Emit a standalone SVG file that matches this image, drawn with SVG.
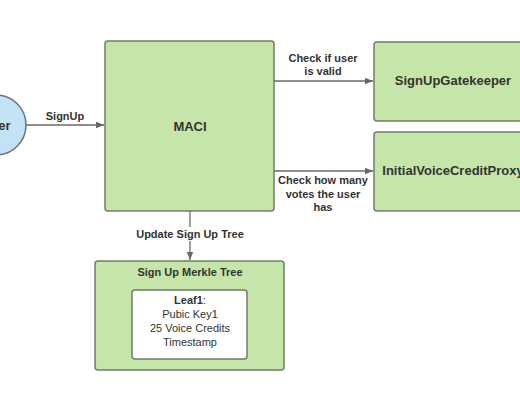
<svg xmlns="http://www.w3.org/2000/svg" width="520" height="400" viewBox="0 0 520 400">
<defs>
<marker id="arr" viewBox="0 0 10 10" refX="10" refY="5" markerWidth="8" markerHeight="8" markerUnits="userSpaceOnUse" orient="auto">
<path d="M0,1 L10,5 L0,9 z" fill="#666"/>
</marker>
<style>
.box{fill:#c6e5a8;stroke:#6f7d69;stroke-width:1.5}
.t{font-family:"Liberation Sans",Arial,sans-serif;fill:#333;text-anchor:middle}
.b{font-weight:bold}
.edge{stroke:#6a6a6a;stroke-width:1.3;fill:none}
</style>
</defs>
<rect width="520" height="400" fill="#ffffff"/>
<g id="user">
<circle cx="-4" cy="125" r="30" fill="#c4e2f5" stroke="#6a747a" stroke-width="1.5"/>
<text class="t b" x="-4" y="130" font-size="13">User</text>
</g>
<g id="maci">
<rect class="box" x="105" y="41" width="169" height="170" rx="3"/>
<text class="t b" x="190" y="131" font-size="13" fill="#2f3d2b">MACI</text>
</g>
<g id="gatekeeper">
<rect class="box" x="374" y="42" width="160" height="79" rx="3"/>
<text class="t b" x="453" y="85" font-size="13">SignUpGatekeeper</text>
</g>
<g id="proxy">
<rect class="box" x="374" y="132" width="160" height="79" rx="3"/>
<text class="t b" x="453" y="175" font-size="13">InitialVoiceCreditProxy</text>
</g>
<g id="merkle">
<rect class="box" x="95" y="261" width="189" height="109" rx="3"/>
<text class="t b" x="190" y="276" font-size="11">Sign Up Merkle Tree</text>
<g id="leaf1">
<rect x="132" y="290" width="115" height="69" rx="3" fill="#ffffff" stroke="#6f7d69" stroke-width="1.5"/>
<text class="t" x="190" y="304" font-size="11"><tspan font-weight="bold">Leaf1</tspan>:</text>
<text class="t" x="190" y="318" font-size="11">Pubic Key1</text>
<text class="t" x="190" y="332" font-size="11">25 Voice Credits</text>
<text class="t" x="190" y="346" font-size="11">Timestamp</text>
</g>
</g>
<g id="connectors">
<line class="edge" x1="26" y1="125" x2="104" y2="125" marker-end="url(#arr)"/>
<text class="t b" x="65" y="120" font-size="11">SignUp</text>
<line class="edge" x1="274" y1="81" x2="373" y2="81" marker-end="url(#arr)"/>
<text class="t b" x="323" y="62" font-size="11">Check if user</text>
<text class="t b" x="323" y="75" font-size="11">is valid</text>
<line class="edge" x1="274" y1="171" x2="373" y2="171" marker-end="url(#arr)"/>
<text class="t b" x="323" y="184" font-size="11">Check how many</text>
<text class="t b" x="323" y="198" font-size="11">votes the user</text>
<text class="t b" x="323" y="211" font-size="11">has</text>
<line class="edge" x1="190" y1="211" x2="190" y2="260" marker-end="url(#arr)"/>
<rect x="133" y="227" width="114" height="14" fill="#ffffff"/>
<text class="t b" x="190" y="238" font-size="11">Update Sign Up Tree</text>
</g>
</svg>
